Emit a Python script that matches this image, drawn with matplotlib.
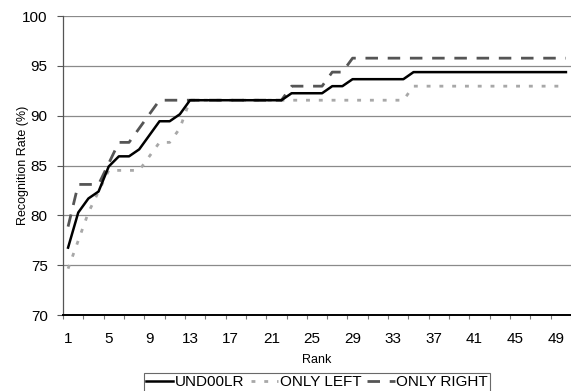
import numpy as np
import matplotlib.pyplot as plt

plt.rcParams['font.family'] = ['Liberation Sans', 'DejaVu Sans']

ranks = list(range(1, 51))

und00lr = [76.76, 80.28, 81.69, 82.39, 84.90, 85.92, 85.92, 86.62, 88.03, 89.44,
           89.44, 90.14] + [91.55] * 10 + [92.25] * 4 + [92.96] * 2 + [93.66] * 6 + [94.37] * 16
only_left = [74.65, 77.46, 80.28, 82.39, 84.51, 84.51, 84.51, 84.51, 85.92, 87.32,
             87.32, 88.73] + [91.55] * 22 + [92.96] * 16
only_right = [78.87, 83.10, 83.10, 83.10, 85.21, 87.32, 87.32, 88.73, 90.14] + \
             [91.55] * 13 + [92.96] * 4 + [94.37] * 2 + [95.77] * 22

yticks = [70, 75, 80, 85, 90, 95, 100]
xlabels = list(range(1, 50, 4))

def main():
  fig = plt.figure(figsize=(5.71, 3.91), dpi=100)
  ax = fig.add_axes([63 / 571, 1 - 315 / 391, 1 - 63 / 571, (315 - 16) / 391])

  for y in yticks[1:]:
    ax.axhline(y, color='#8a8a8a', lw=0.9, zorder=1)

  ax.plot(ranks, only_left, color='#a8a8a8', lw=2.0, linestyle=(0, (1.4, 3.2)),
          dash_capstyle='butt', label='ONLY LEFT', zorder=3)
  ax.plot(ranks, only_right, color='#555555', lw=2.0, linestyle=(0, (4.5, 3.5)),
          dash_capstyle='butt', label='ONLY RIGHT', zorder=3)
  ax.plot(ranks, und00lr, color='black', lw=1.8, label='UND00LR', zorder=4)

  ax.set_xlim(0.5, 50.5)
  ax.set_ylim(70, 100)
  ax.set_yticks(yticks)
  ax.set_xticks(xlabels)
  ax.set_xticks(np.arange(0.5, 51, 2), minor=True)
  ax.tick_params(axis='y', direction='out', length=4, width=0.8, color='#555555',
                 labelsize=11, pad=7)
  ax.tick_params(axis='x', which='major', length=0, labelsize=11, pad=12)
  ax.tick_params(axis='x', which='minor', direction='out', length=3, width=0.8,
                 color='#777777')

  for side in ['top', 'right']:
    ax.spines[side].set_visible(False)
  ax.spines['left'].set_color('#555555')
  ax.spines['left'].set_linewidth(0.9)
  ax.spines['bottom'].set_color('black')
  ax.spines['bottom'].set_linewidth(1.4)

  ax.set_xlabel('Rank', fontsize=9, labelpad=6)
  ax.set_ylabel('Recognition Rate (%)', fontsize=9)
  ax.yaxis.set_label_coords(-0.066, 0.5)

  handles, labels = ax.get_legend_handles_labels()
  order = [2, 0, 1]
  leg = fig.legend([handles[i] for i in order], [labels[i] for i in order],
                   loc='upper center', bbox_to_anchor=(317 / 571, 1 - 373 / 391),
                   ncol=3, fontsize=11, frameon=True, fancybox=False,
                   handlelength=1.8, handletextpad=0.1, columnspacing=0.4,
                   borderpad=0.15, borderaxespad=0)
  leg.get_frame().set_edgecolor('#444444')
  leg.get_frame().set_linewidth(0.8)

  fig.savefig('out.png', dpi=100)

main()
